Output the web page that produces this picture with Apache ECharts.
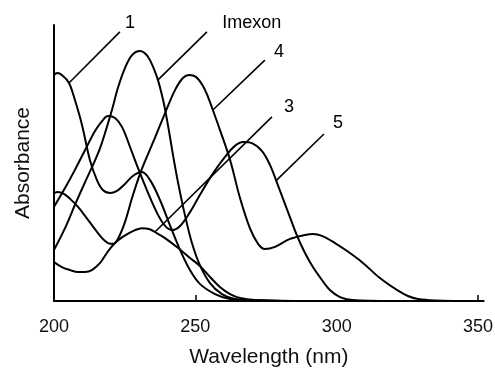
<!DOCTYPE html>
<html><head><meta charset="utf-8">
<script src="https://cdn.jsdelivr.net/npm/echarts@6/dist/echarts.min.js"></script>
<style>html,body{margin:0;padding:0;background:#fff}#c{width:495px;height:369px}</style>
</head><body><div id="c"></div>
<script>
// Wavelength (nm), absorbance (arbitrary units, 0..1)
const curve1 = [[200,0.819],[201.1,0.826],[202.8,0.819],[205.3,0.790],[207.4,0.728],[209.9,0.638],[212.7,0.511],[215.2,0.438],[217.3,0.402],[219.8,0.391],[222.3,0.399],[225.1,0.424],[227.9,0.453],[231.1,0.467],[234.0,0.438],[237.5,0.366],[241.0,0.275],[244.6,0.185],[248.1,0.112],[251.6,0.062],[257.0,0.025],[262.3,0.007],[272.9,0.002],[290,0],[350,0]];
const imexon = [[200,0.185],[203.9,0.264],[207.4,0.348],[211.0,0.431],[213.8,0.493],[216.3,0.554],[218.4,0.620],[220.5,0.692],[222.6,0.772],[225.1,0.844],[227.6,0.891],[230.4,0.906],[233.3,0.884],[236.4,0.812],[238.6,0.728],[240.3,0.638],[242.1,0.529],[243.9,0.428],[246.3,0.312],[248.8,0.210],[251.6,0.130],[255.2,0.065],[259.4,0.025],[264.0,0.007],[271.1,0.002],[290,0],[350,0]];
const curve3 = [[200,0.141],[202.8,0.123],[205.7,0.112],[208.5,0.105],[211.0,0.105],[213.4,0.112],[216.3,0.138],[218.7,0.174],[220.9,0.203],[223.3,0.225],[226.1,0.243],[228.7,0.257],[231.1,0.264],[233.6,0.261],[235.7,0.250],[239.3,0.228],[243.9,0.192],[248.1,0.156],[251.6,0.127],[255.2,0.087],[258.7,0.051],[262.3,0.025],[265.8,0.011],[271.1,0.004],[290,0],[350,0]];
const curve4 = [[200,0.391],[201.4,0.395],[203.5,0.388],[205.7,0.370],[208.5,0.341],[211.3,0.304],[214.2,0.264],[217.0,0.228],[219.1,0.210],[220.9,0.207],[222.6,0.225],[225.1,0.286],[227.6,0.373],[230.4,0.460],[233.3,0.533],[235.7,0.591],[239.3,0.681],[242.8,0.764],[245.6,0.808],[247.8,0.819],[250.2,0.812],[252.7,0.779],[254.5,0.739],[256.2,0.692],[258.7,0.620],[262.3,0.511],[265.8,0.373],[269.3,0.264],[272.2,0.207],[274.6,0.188],[278.2,0.196],[283.5,0.225],[288.8,0.239],[291.6,0.243],[294.8,0.236],[299.4,0.210],[303.7,0.181],[309.3,0.138],[315.3,0.083],[321.3,0.040],[325.2,0.018],[328.8,0.007],[334.8,0.002],[350,0]];
const curve5 = [[200,0.341],[203.9,0.409],[207.4,0.475],[211.0,0.547],[214.5,0.616],[217.0,0.652],[219.1,0.670],[221.6,0.663],[224.1,0.630],[226.9,0.558],[229.7,0.482],[233.3,0.391],[236.8,0.312],[239.3,0.272],[241.7,0.257],[244.6,0.272],[248.1,0.322],[251.6,0.384],[255.9,0.457],[260.5,0.522],[264.0,0.562],[266.9,0.576],[270.0,0.572],[273.6,0.543],[276.4,0.493],[279.2,0.420],[282.8,0.322],[286.0,0.236],[288.8,0.174],[291.6,0.123],[294.8,0.076],[297.6,0.040],[301.2,0.014],[305.4,0.004],[320,0],[350,0]];

const xTickLabels = [200, 250, 300, 350];
const xTickMarks = [250, 350];

// Annotation pointers (data coordinates) and their labels
const pointerNames = ['1', 'Imexon', '4', '3', '5'];
const pointerFrom = [[205.3,0.790],[236.8,0.801],[256.2,0.692],[235.7,0.250],[278.5,0.435]];
const pointerTo = [[223.3,0.975],[254.1,0.975],[274.6,0.873],[277.1,0.667],[295.5,0.605]];
const labelAt = [[226.9,1.007],[270.0,1.007],[279.6,0.902],[283.1,0.703],[300.5,0.645]];

const FONT = '"Liberation Sans", Arial, Helvetica, sans-serif';
const curves = [curve1, imexon, curve3, curve4, curve5];

const series = curves.map(d => ({
  type: 'line', data: d, showSymbol: false, smooth: 0.35, clip: false,
  lineStyle: { color: '#000', width: 2 }, silent: true
}));
pointerNames.forEach((n, i) => {
  series.push({
    type: 'line', data: [pointerFrom[i], pointerTo[i]], showSymbol: false, clip: false,
    lineStyle: { color: '#000', width: 1.6 }, silent: true
  });
});
series.push({
  type: 'scatter', clip: false, symbolSize: 0, silent: true,
  itemStyle: { opacity: 1, color: '#000' },
  data: labelAt.map((p, i) => ({ value: p, name: pointerNames[i] })),
  label: { show: true, position: 'inside', formatter: p => p.name, opacity: 1,
           color: '#000', fontSize: 18, fontFamily: FONT }
});

const chart = echarts.init(document.getElementById('c'), null, { renderer: 'canvas' });
chart.setOption({
  animation: false,
  backgroundColor: '#fff',
  grid: { left: 54, top: 25, bottom: 68, right: 11.35, containLabel: false, outerBoundsMode: 'none' },
  xAxis: {
    type: 'value', min: 200, max: 352,
    name: 'Wavelength (nm)', nameLocation: 'middle', nameGap: 46,
    nameTextStyle: { fontSize: 21, color: '#111', fontFamily: FONT },
    axisLine: { show: true, lineStyle: { color: '#000', width: 2 } },
    axisTick: { show: true, inside: true, length: 6, customValues: xTickMarks, lineStyle: { color: '#000', width: 1.5 } },
    axisLabel: { customValues: xTickLabels, margin: 17, fontSize: 18, color: '#111', fontFamily: FONT },
    splitLine: { show: false }
  },
  yAxis: {
    type: 'value', min: 0, max: 1,
    name: 'Absorbance', nameLocation: 'middle', nameGap: 20,
    nameTextStyle: { fontSize: 21, color: '#111', fontFamily: FONT },
    axisLine: { show: true, lineStyle: { color: '#000', width: 2 } },
    axisTick: { show: false }, axisLabel: { show: false }, splitLine: { show: false }
  },
  series: series
});
</script></body></html>
